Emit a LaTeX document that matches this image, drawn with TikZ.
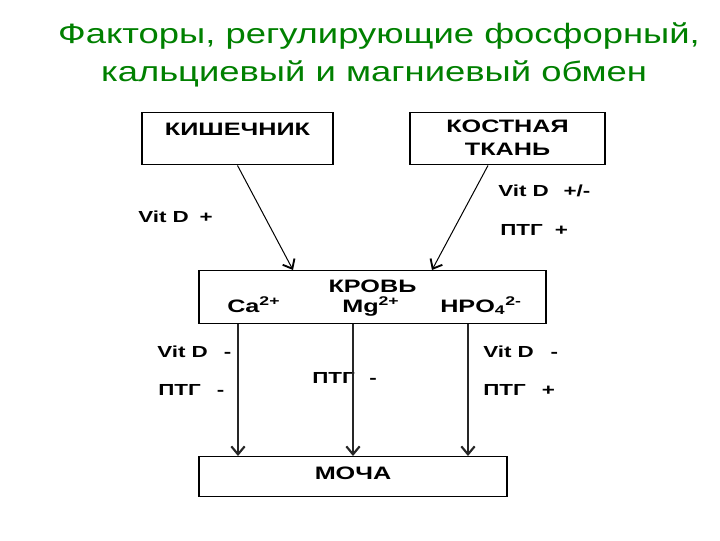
\documentclass[tikz,border=0pt]{standalone}
\usepackage{fontspec}
\setmainfont{Liberation Sans}
\newfontfamily\boldwide[FakeStretch=1.4]{Liberation Sans Bold}
\newfontfamily\titlefont[FakeStretch=1.3]{Liberation Sans}
\usetikzlibrary{arrows.meta}
\definecolor{titlegreen}{RGB}{0,128,0}
\tikzset{
  box/.style={draw=black, line width=1.1pt, rectangle, inner sep=0pt, align=center,
    font=\boldwide\fontsize{13.5}{17.25}\selectfont},
  lbl/.style={inner sep=0pt, anchor=base west, font=\boldwide\fontsize{12}{14}\selectfont},
  ion/.style={inner sep=0pt, anchor=base west, font=\boldwide\fontsize{13.5}{16}\selectfont},
  ttl/.style={inner sep=0pt, anchor=base, text=titlegreen, font=\titlefont\fontsize{21}{25}\selectfont},
  flow/.style={draw=black, line width=0.75pt, -{Straight Barb[length=6pt,width=10pt,line width=1.4pt]}},
  vflow/.style={draw=black!85, line width=1pt, -{Straight Barb[length=6pt,width=10pt,line width=1.6pt]}}
}
\begin{document}
\begin{tikzpicture}[x=0.75pt,y=-0.75pt]
\useasboundingbox (0,0) rectangle (720,540);
\node[ttl] (t1) at (379,43) {Факторы, регулирующие фосфорный,};
\node[ttl] (t2) at (374,81) {кальциевый и магниевый обмен};

\node[box, anchor=north, minimum width=143.25pt, text height=17.25pt, text depth=21.75pt] (kish) at (237.5,112) {КИШЕЧНИК};
\node[box, anchor=north, minimum width=146.25pt, text height=32.25pt, text depth=6.75pt] (kost) at (507.5,112) {КОСТНАЯ\\ТКАНЬ};
\node[box, anchor=north, minimum width=260.25pt, text height=16.5pt, text depth=23.25pt] (krov) at (372.5,270) {КРОВЬ};
\node[box, anchor=north, minimum width=231pt, text height=17.25pt, text depth=12.75pt] (mocha) at (353,456) {МОЧА};

\node[ion] (ca) at (227,312) {Ca\textsuperscript{2+}};
\node[ion] (mg) at (342,312) {Mg\textsuperscript{2+}};
\node[ion] (hpo) at (440,312) {HPO\textsubscript{4}\textsuperscript{2-}};

\node[lbl] (l1) at (138,222) {Vit D\hspace{8pt}+};
\node[lbl] (l2) at (498,196) {Vit D\hspace{11pt}+/-};
\node[lbl] (l3) at (500,235) {ПТГ\hspace{9pt}+};
\node[lbl] (l4) at (157,357) {Vit D\hspace{12pt}-};
\node[lbl] (l5) at (158,395) {ПТГ\hspace{12pt}-};
\node[lbl] (l6) at (312,383) {ПТГ\hspace{11pt}-};
\node[lbl] (l7) at (483,357) {Vit D\hspace{12.5pt}-};
\node[lbl] (l8) at (483,395) {ПТГ\hspace{12pt}+};

\draw[flow] (kish.south) -- (293,0 |- krov.north);
\draw[flow] (488,0 |- kost.south) -- (432,0 |- krov.north);
\draw[vflow] (238,0 |- krov.south) -- (238,0 |- mocha.north);
\draw[vflow] (353,0 |- krov.south) -- (353,0 |- mocha.north);
\draw[vflow] (468,0 |- krov.south) -- (468,0 |- mocha.north);
\end{tikzpicture}
\end{document}
